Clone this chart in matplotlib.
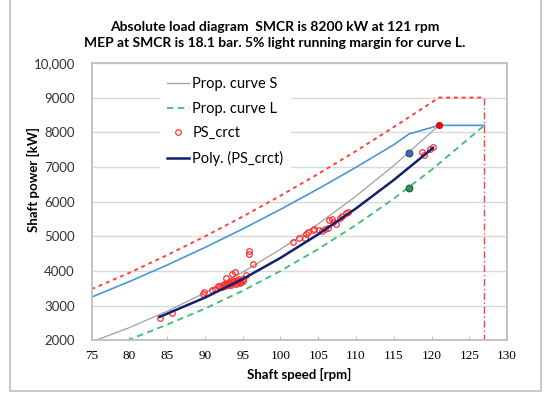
import numpy as np
import matplotlib.pyplot as plt
from matplotlib.lines import Line2D

# propeller curve S (gray)
s_speed = [75.5, 80, 85, 90, 95, 100, 105, 110, 115, 121]
s_power = [2000, 2370, 2843, 3374, 3969, 4629, 5358, 6161, 7040, 8200]
# propeller curve L (green dashed)
l_speed = [79.7, 85, 90, 95, 100, 105, 110, 115, 120, 127]
l_power = [2000, 2458, 2918, 3432, 4003, 4635, 5328, 6088, 6918, 8200]
# upper limit (red dashed)
lim_speed = [75, 80, 85, 90, 95, 100, 105, 110, 115, 121, 127]
lim_power = [3480, 3950, 4460, 5000, 5570, 6170, 6800, 7460, 8150, 9000, 9000]
# blue curve
b_speed = [75, 80, 85, 90, 95, 100, 105, 110, 115, 117, 121, 127]
b_power = [3250, 3698, 4174, 4680, 5214, 5778, 6370, 6991, 7641, 7950, 8200, 8200]
# poly fit of PS_crct (navy)
p_speed = [84, 90, 95, 100, 105, 110, 115, 120.2]
p_power = [2680, 3235, 3770, 4380, 5060, 5805, 6625, 7550]
# measured points PS_crct
ps_speed = [84.0, 85.7, 89.7, 89.9, 91.0, 91.4, 91.7, 92.0, 92.2, 92.4, 92.5, 92.7,
            92.8, 92.9, 93.0, 93.1, 93.3, 93.4, 93.5, 93.6, 93.6, 93.7, 93.8, 94.0,
            94.0, 94.1, 94.2, 94.3, 94.4, 94.5, 94.6, 94.7, 94.8, 95.0, 95.1, 95.4,
            95.9, 95.9, 96.4, 101.6, 102.4, 103.3, 103.4, 103.6, 104.3, 104.5, 105.1,
            105.5, 105.9, 106.3, 106.4, 106.8, 106.9, 107.3, 107.9, 108.2, 108.7, 108.9,
            118.7, 119.0, 119.8, 120.2]
ps_power = [2660, 2790, 3350, 3390, 3460, 3490, 3560, 3580, 3540, 3600, 3630, 3570,
            3790, 3620, 3660, 3590, 3640, 3700, 3610, 3920, 3680, 3650, 3720, 3960,
            3690, 3630, 3740, 3670, 3700, 3760, 3650, 3720, 3690, 3760, 3700, 3900,
            4590, 4500, 4190, 4840, 4960, 4960, 5080, 5120, 5190, 5220, 5170,
            5150, 5220, 5250, 5470, 5510, 5410, 5360, 5540, 5600, 5670, 5700,
            7430, 7350, 7520, 7570]
# single points
smcr = (121, 8200)
blue_pt = (117, 7400)
green_pt = (117, 6400)

txt = ['Lato', 'DejaVu Sans']
plt.rcParams['font.family'] = txt

fig = plt.figure(figsize=(5.5, 3.98), dpi=100)
ax = fig.add_axes([0.1665, 0.1445, 0.7555, 0.6975])

ax.plot(lim_speed, lim_power, color='#ff4040', lw=1.4, ls=(0, (2, 2)))
ax.plot([127, 127], [9000, 2000], color='#ff4040', lw=1.0, ls=(0, (5, 2, 1, 2)))
ax.plot(b_speed, b_power, color='#4a97d8', lw=1.2)
ax.plot(s_speed, s_power, color='#a0a0a0', lw=0.9)
ax.plot(l_speed, l_power, color='#3cbf6a', lw=1.3, ls=(0, (3.5, 2.5)))
ax.plot(ps_speed, ps_power, ls='none', marker='o', ms=4, mfc='none', mec='#ff3030', mew=0.9)
ax.plot(p_speed, p_power, color='#13206b', lw=1.8)
ax.plot(*smcr, marker='o', ms=4.5, color='#ff0000', mec='#cc0000', mew=0.6)
ax.plot(*blue_pt, marker='o', ms=5, color='#2e75b6', mec='#1f3050', mew=0.6)
ax.plot(*green_pt, marker='o', ms=5, color='#1e9e5a', mec='#1f4030', mew=0.6)

ax.set_xlim(75, 130)
ax.set_ylim(2000, 10000)
ax.set_xticks(np.arange(75, 131, 5))
ax.set_yticks(np.arange(2000, 10001, 1000))
ax.set_yticklabels(['2000', '3000', '4000', '5000', '6000', '7000', '8000', '9000', '10,000'])
ax.yaxis.grid(True, color='#d9d9d9', lw=1.0)
ax.set_axisbelow(True)
for sp in ax.spines.values():
    sp.set_color('#bfbfbf')
    sp.set_linewidth(1.3)
ax.tick_params(axis='y', length=0, pad=12, labelsize=9.5, labelcolor='#333333')
ax.tick_params(axis='x', direction='in', length=3, color='#bfbfbf', pad=7, labelsize=9.5)
for lb in ax.get_xticklabels():
    lb.set_family('Liberation Serif')

ax.set_xlabel('Shaft speed [rpm]', fontsize=9.5, fontweight='bold', labelpad=4)
ax.set_ylabel('Shaft power [kW]', fontsize=9.5, fontweight='bold')
ax.yaxis.set_label_coords(-0.125, 0.58)

handles = [Line2D([], [], color='#a0a0a0', lw=0.9),
           Line2D([], [], color='#3cbf6a', lw=1.3, ls=(0, (3.5, 2.5))),
           Line2D([], [], ls='none', marker='o', ms=4, mfc='none', mec='#ff3030', mew=0.9),
           Line2D([], [], color='#13206b', lw=1.8)]
labels = ['Prop. curve S', 'Prop. curve L', 'PS_crct', 'Poly. (PS_crct)']
leg = ax.legend(handles, labels, loc='upper left', bbox_to_anchor=(0.165, 0.975),
                frameon=True, fontsize=10.5, handlelength=1.45, handletextpad=0.25,
                labelspacing=0.72, borderpad=0.5, borderaxespad=0)
leg.get_frame().set_edgecolor('none')
leg.get_frame().set_facecolor('white')
leg.get_frame().set_alpha(1)

fig.text(0.5, 0.933, 'Absolute load diagram  SMCR is 8200 kW at 121 rpm',
         ha='center', va='center', fontsize=10, fontweight='bold')
fig.text(0.5, 0.893, 'MEP at SMCR is 18.1 bar. 5% light running margin for curve L.',
         ha='center', va='center', fontsize=10, fontweight='bold')

# outer chart border
fig.add_artist(Line2D([0.018, 0.018, 0.984, 0.984], [1.0, 0.017, 0.017, 1.0],
                      transform=fig.transFigure, color='#bfbfbf', lw=1.2))

fig.savefig('out.png', dpi=100)
